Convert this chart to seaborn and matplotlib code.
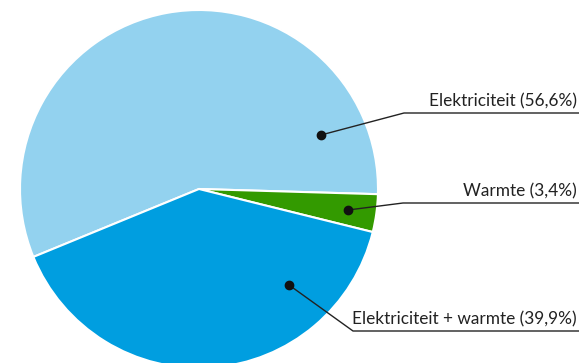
import matplotlib
matplotlib.use("Agg")
import matplotlib.pyplot as plt
import seaborn as sns

labels = ["Elektriciteit (56,6%)", "Warmte (3,4%)", "Elektriciteit + warmte (39,9%)"]
values = [56.6, 3.4, 39.9]
colors = ["#93d2ef", "#339a00", "#009ee0"]

sns.set_theme(style="white")
plt.rcParams['font.family'] = ['Lato', 'DejaVu Sans']

W, H = 579, 363
fig = plt.figure(figsize=(W / 100, H / 100), dpi=100)
ax = fig.add_axes([0, 0, 1, 1])

cx, cy, r = 199, H - 189, 179
ax.pie(values, colors=colors, startangle=202.3, counterclock=False,
       center=(cx, cy), radius=r, frame=True,
       wedgeprops=dict(edgecolor='white', linewidth=1.5))
ax.set_xlim(0, W)
ax.set_ylim(0, H)
ax.set_aspect('equal')
ax.axis('off')

# leader lines: (dot, elbow) in pixel coords
leaders = [((321, 135), (404, 113)),
           ((348, 210), (403, 203)),
           ((289, 285), (353, 331))]
for lab, (dot, elbow) in zip(labels, leaders):
    xs = [dot[0], elbow[0], W]
    ys = [H - dot[1], H - elbow[1], H - elbow[1]]
    ax.plot(xs, ys, color='#222222', lw=1.0, solid_capstyle='butt')
    ax.plot(dot[0], H - dot[1], 'o', color='#111111', markersize=6)
    ax.text(W - 2, H - elbow[1] + 4, lab, ha='right', va='bottom',
            fontsize=12.4, color='#222222')

fig.savefig("out.png", dpi=100)
